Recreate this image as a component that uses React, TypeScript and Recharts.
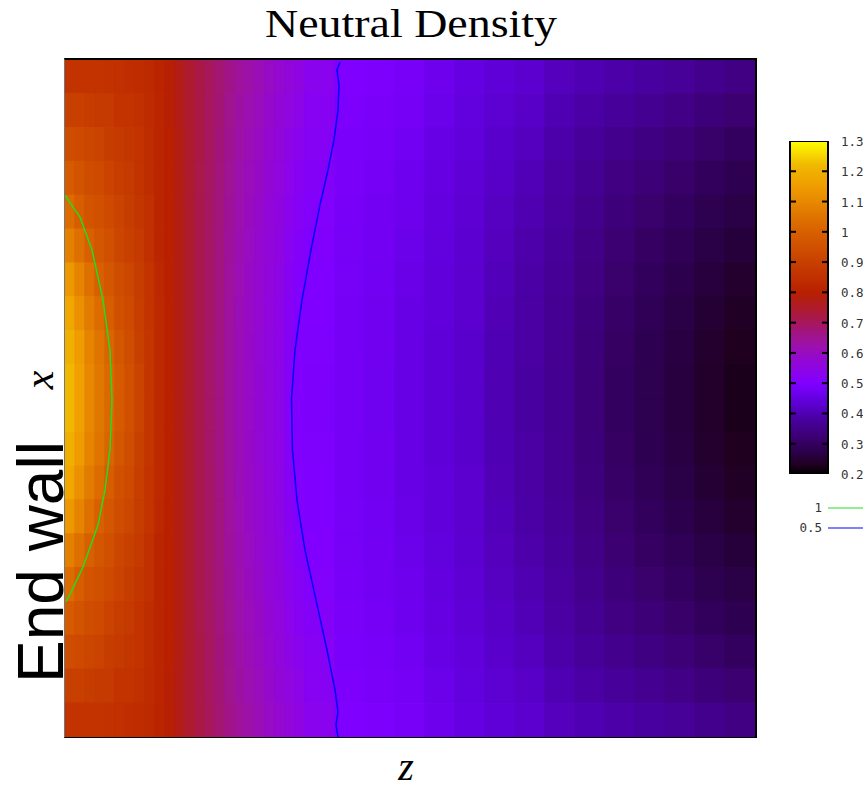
import { ComposedChart, Line, XAxis, YAxis, ReferenceArea, BarChart, Bar } from "recharts";

// grid cell edges along z (plot width) and x (plot height)
const zEdges = [0, 1, 2, 3, 4, 5, 6, 7, 8, 9, 10, 11, 12, 13, 14, 15, 16, 17, 18, 19, 20, 21, 22, 23, 24, 27, 30, 33, 36, 39, 42, 45, 48, 51, 54, 57, 60, 63, 66, 69];
const xEdges = [0, 1, 2, 3, 4, 5, 6, 7, 8, 9, 10, 11, 12, 13, 14, 15, 16, 17, 18, 19, 20];

// density rows, from the wall (x edge) toward the middle
const row00 = [0.86, 0.86, 0.86, 0.86, 0.855, 0.85, 0.845, 0.84, 0.83, 0.815, 0.795, 0.77, 0.745, 0.72, 0.70, 0.68, 0.66, 0.64, 0.625, 0.61, 0.595, 0.58, 0.565, 0.55, 0.53, 0.498, 0.494, 0.485, 0.468, 0.452, 0.44, 0.43, 0.41, 0.40, 0.39, 0.38, 0.37, 0.355, 0.345];
const row01 = [0.90, 0.90, 0.89, 0.88, 0.88, 0.86, 0.86, 0.85, 0.835, 0.82, 0.795, 0.77, 0.745, 0.72, 0.698, 0.677, 0.655, 0.634, 0.618, 0.603, 0.587, 0.572, 0.555, 0.54, 0.523, 0.494, 0.489, 0.479, 0.462, 0.447, 0.432, 0.42, 0.40, 0.386, 0.372, 0.36, 0.348, 0.332, 0.321];
const row02 = [0.94, 0.93, 0.92, 0.91, 0.89, 0.88, 0.87, 0.86, 0.84, 0.82, 0.80, 0.775, 0.745, 0.72, 0.696, 0.674, 0.651, 0.629, 0.612, 0.597, 0.58, 0.565, 0.546, 0.53, 0.517, 0.491, 0.485, 0.474, 0.457, 0.442, 0.425, 0.411, 0.391, 0.373, 0.356, 0.342, 0.328, 0.311, 0.299];
const row03 = [0.98, 0.96, 0.94, 0.93, 0.91, 0.89, 0.88, 0.86, 0.84, 0.82, 0.80, 0.775, 0.745, 0.717, 0.695, 0.672, 0.647, 0.624, 0.607, 0.592, 0.574, 0.559, 0.539, 0.523, 0.512, 0.489, 0.482, 0.469, 0.453, 0.438, 0.419, 0.404, 0.384, 0.364, 0.343, 0.328, 0.313, 0.295, 0.283];
const row04 = [1.03, 0.99, 0.96, 0.95, 0.93, 0.91, 0.89, 0.87, 0.85, 0.82, 0.80, 0.775, 0.745, 0.716, 0.694, 0.67, 0.644, 0.621, 0.602, 0.587, 0.569, 0.554, 0.533, 0.516, 0.507, 0.486, 0.478, 0.466, 0.45, 0.434, 0.414, 0.398, 0.378, 0.355, 0.332, 0.315, 0.299, 0.28, 0.267];
const row05 = [1.08, 1.04, 1.00, 0.97, 0.95, 0.92, 0.90, 0.88, 0.85, 0.82, 0.80, 0.775, 0.745, 0.715, 0.692, 0.669, 0.641, 0.617, 0.598, 0.583, 0.565, 0.55, 0.527, 0.51, 0.503, 0.484, 0.476, 0.462, 0.447, 0.431, 0.41, 0.392, 0.372, 0.347, 0.322, 0.304, 0.286, 0.268, 0.254];
const row06 = [1.14, 1.09, 1.04, 1.00, 0.97, 0.94, 0.92, 0.89, 0.86, 0.825, 0.80, 0.775, 0.745, 0.715, 0.692, 0.667, 0.639, 0.615, 0.595, 0.58, 0.561, 0.546, 0.523, 0.506, 0.50, 0.483, 0.474, 0.46, 0.444, 0.429, 0.406, 0.388, 0.368, 0.341, 0.314, 0.295, 0.277, 0.257, 0.243];
const row07 = [1.18, 1.12, 1.07, 1.03, 0.99, 0.95, 0.93, 0.895, 0.86, 0.83, 0.80, 0.775, 0.745, 0.715, 0.691, 0.666, 0.637, 0.612, 0.593, 0.578, 0.558, 0.543, 0.519, 0.502, 0.498, 0.481, 0.472, 0.457, 0.442, 0.427, 0.403, 0.384, 0.364, 0.336, 0.307, 0.288, 0.269, 0.249, 0.235];
const row08 = [1.20, 1.15, 1.09, 1.05, 1.01, 0.97, 0.94, 0.90, 0.87, 0.83, 0.80, 0.775, 0.745, 0.715, 0.69, 0.665, 0.636, 0.611, 0.591, 0.576, 0.556, 0.541, 0.517, 0.50, 0.496, 0.481, 0.471, 0.456, 0.441, 0.426, 0.401, 0.382, 0.362, 0.332, 0.303, 0.283, 0.263, 0.243, 0.229];
const row09 = [1.22, 1.16, 1.10, 1.06, 1.02, 0.98, 0.95, 0.91, 0.87, 0.83, 0.80, 0.775, 0.745, 0.715, 0.69, 0.665, 0.635, 0.61, 0.59, 0.575, 0.555, 0.54, 0.515, 0.498, 0.495, 0.48, 0.47, 0.455, 0.44, 0.425, 0.40, 0.38, 0.36, 0.33, 0.30, 0.28, 0.26, 0.24, 0.225];

// the field is symmetric about the middle of x
const densityGrid = [row00, row01, row02, row03, row04, row05, row06, row07, row08, row09, row09, row08, row07, row06, row05, row04, row03, row02, row01, row00];

// contour at density 1 (green) and 0.5 (blue)
const contour1 = [
  { z: 0, x: 3.99 }, { z: 0.5, x: 4.22 }, { z: 1.5, x: 4.64 }, { z: 2.7, x: 5.61 }, { z: 3.8, x: 7.09 },
  { z: 4.5, x: 8.57 }, { z: 4.7, x: 10.04 }, { z: 4.5, x: 11.52 }, { z: 4.0, x: 12.7 }, { z: 3.3, x: 13.74 },
  { z: 1.8, x: 14.98 }, { z: 0.7, x: 15.66 }, { z: 0.1, x: 16.01 },
];
const contour05 = [
  { z: 27.5, x: 0.06 }, { z: 27.2, x: 0.3 }, { z: 27.4, x: 0.74 }, { z: 27.3, x: 1.48 }, { z: 26.9, x: 2.36 },
  { z: 26.3, x: 3.25 }, { z: 25.5, x: 4.28 }, { z: 24.6, x: 5.61 }, { z: 23.7, x: 7.09 }, { z: 23.0, x: 8.57 },
  { z: 22.65, x: 10.04 }, { z: 22.75, x: 11.52 }, { z: 23.2, x: 13.0 }, { z: 24.0, x: 14.48 }, { z: 25.1, x: 15.95 },
  { z: 26.2, x: 17.43 }, { z: 27.0, x: 18.61 }, { z: 27.3, x: 19.26 }, { z: 27.1, x: 19.65 }, { z: 27.3, x: 20 },
];

const colorbarTicks = [0.2, 0.3, 0.4, 0.5, 0.6, 0.7, 0.8, 0.9, 1, 1.1, 1.2, 1.3];
const colorbarData = [{ name: "density", span: [0.2, 1.3] }];

const colorStops: [number, string][] = [
  [0.2, "#000000"], [0.23, "#200020"], [0.26, "#280040"], [0.29, "#300058"], [0.32, "#3c0070"],
  [0.36, "#440090"], [0.39, "#4c00a8"], [0.42, "#5800c8"], [0.45, "#6400e0"], [0.47, "#7000f0"],
  [0.5, "#8000ff"], [0.54, "#8c04e8"], [0.58, "#9408d0"], [0.62, "#9c10b0"], [0.66, "#a01488"],
  [0.71, "#a81850"], [0.76, "#b01c20"], [0.8, "#b82000"], [0.85, "#c03000"], [0.9, "#c84000"],
  [0.95, "#d05000"], [1.0, "#d86000"], [1.06, "#e07800"], [1.1, "#e88800"], [1.16, "#f0a000"],
  [1.22, "#f0b800"], [1.3, "#ffff00"],
];

const rgb = (h: string) => [1, 3, 5].map((i) => parseInt(h.slice(i, i + 2), 16));

function densityColor(v: number) {
  if (v <= colorStops[0][0]) return colorStops[0][1];
  for (let i = 1; i < colorStops.length; i++) {
    const [v1, c1] = colorStops[i];
    if (v <= v1) {
      const [v0, c0] = colorStops[i - 1];
      const t = (v - v0) / (v1 - v0);
      const a = rgb(c0);
      const b = rgb(c1);
      return `rgb(${a.map((x, k) => Math.round(x + (b[k] - x) * t)).join(",")})`;
    }
  }
  return colorStops[colorStops.length - 1][1];
}

const mono = "'DejaVu Sans Mono', monospace";
const serif = "'Liberation Serif', serif";

function Heatmap() {
  const cells: any[] = [];
  densityGrid.forEach((row, r) =>
    row.forEach((v, c) => {
      const col = densityColor(v);
      cells.push(
        <ReferenceArea
          key={`${r}-${c}`}
          x1={zEdges[c]}
          x2={zEdges[c + 1]}
          y1={xEdges[r]}
          y2={xEdges[r + 1]}
          fill={col}
          fillOpacity={1}
          stroke={col}
          strokeWidth={1.4}
          strokeOpacity={1}
          ifOverflow="visible"
        />
      );
    })
  );
  return (
    <ComposedChart width={690} height={677} margin={{ top: 0, right: 0, bottom: 0, left: 0 }}>
      <XAxis type="number" dataKey="z" domain={[0, 69]} hide allowDataOverflow />
      <YAxis type="number" domain={[0, 20]} reversed hide allowDataOverflow />
      {cells}
      <Line data={contour1} dataKey="x" stroke="#22dd22" strokeWidth={1.5} dot={false} isAnimationActive={false} />
      <Line data={contour05} dataKey="x" stroke="#0000ff" strokeWidth={1.5} dot={false} isAnimationActive={false} />
    </ComposedChart>
  );
}

function ColorbarTick(props: any) {
  const { y, payload } = props;
  const v = payload.value as number;
  const label = String(Number(v.toFixed(1)));
  const inner = v > 0.25 && v < 1.25;
  return (
    <g>
      {inner && <line x1={2} x2={8} y1={y} y2={y} stroke="#000" strokeWidth={2} />}
      {inner && <line x1={34} x2={40} y1={y} y2={y} stroke="#000" strokeWidth={2} />}
      <text x={53} y={y + 5} fontFamily={mono} fontSize={12.5} fill="#333">{label}</text>
    </g>
  );
}

function Colorbar() {
  return (
    <BarChart width={75} height={353} data={colorbarData} margin={{ top: 10, right: 0, bottom: 10, left: 2 }} barCategoryGap={0}>
      <XAxis dataKey="name" hide />
      <Bar dataKey="span" fill="url(#cbGrad)" stroke="#000" strokeWidth={2} isAnimationActive={false} />
      <YAxis
        orientation="right"
        type="number"
        width={35}
        domain={[0.2, 1.3]}
        ticks={colorbarTicks}
        interval={0}
        axisLine={false}
        tickLine={false}
        tick={(p: any) => <ColorbarTick {...p} />}
        allowDataOverflow
      />
    </BarChart>
  );
}

export default function App() {
  return (
    <div style={{ position: "absolute", left: 0, top: 0, width: 863, height: 789, background: "#fff" }}>
      <svg width={863} height={789} style={{ position: "absolute", left: 0, top: 0 }}>
        <defs>
          {/* bottom (0.2) to top (1.3) */}
          <linearGradient id="cbGrad" x1="0" y1="1" x2="0" y2="0">
            {colorStops.map(([v, c]) => (
              <stop key={v} offset={`${((v - 0.2) / 1.1) * 100}%`} stopColor={c} />
            ))}
          </linearGradient>
        </defs>
        <text x={411} y={37} textAnchor="middle" fontFamily={serif} fontSize={40} textLength={292} lengthAdjust="spacingAndGlyphs">
          Neutral Density
        </text>
        <text x={406} y={780} textAnchor="middle" fontFamily={serif} fontStyle="italic" fontSize={40}>
          z
        </text>
        <text transform="translate(53,380) rotate(-90)" textAnchor="middle" fontFamily={serif} fontStyle="italic" fontSize={42}>
          x
        </text>
        <text transform="translate(63,683) rotate(-90)" fontFamily="'Liberation Sans', Arial, sans-serif" fontSize={64}>
          End wall
        </text>
        <text x={822} y={512} textAnchor="end" fontFamily={mono} fontSize={12.5} fill="#333">1</text>
        <line x1={828} x2={863} y1={508} y2={508} stroke="#22dd22" strokeWidth={1.2} />
        <text x={822} y={532} textAnchor="end" fontFamily={mono} fontSize={12.5} fill="#333">0.5</text>
        <line x1={828} x2={863} y1={528} y2={528} stroke="#0000ff" strokeWidth={1.2} />
      </svg>
      <div style={{ position: "absolute", left: 65, top: 60 }}>
        <Heatmap />
      </div>
      <div
        style={{
          position: "absolute",
          left: 64,
          top: 58,
          width: 693,
          height: 680,
          boxSizing: "border-box",
          borderTop: "2px solid #000",
          borderRight: "2px solid #000",
          borderBottom: "1px solid #000",
          borderLeft: "1px solid #777",
          pointerEvents: "none",
        }}
      />
      <div style={{ position: "absolute", left: 788, top: 131 }}>
        <Colorbar />
      </div>
    </div>
  );
}
